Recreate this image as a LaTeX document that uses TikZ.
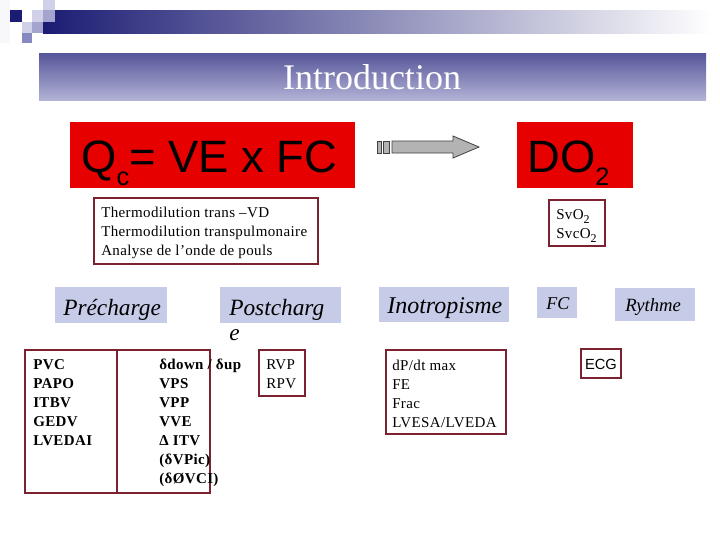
\documentclass[tikz,border=0pt]{standalone}
\usepackage{fontspec}
\setmainfont{Liberation Serif}
\newfontfamily\sansf{Liberation Sans}
\newfontfamily\spaced[LetterSpace=2.5]{Liberation Serif}
\usetikzlibrary{positioning}

\begin{document}
\begin{tikzpicture}[x=0.75pt, y=-0.75pt,
  txt/.style={inner sep=0pt, anchor=base west, font=\spaced\fontsize{11.25}{14.25}\selectfont},
  txtb/.style={inner sep=0pt, anchor=base west, font=\spaced\fontsize{11.25}{14.25}\selectfont\bfseries},
  lbl/.style={inner sep=0pt, anchor=base west, font=\fontsize{17.5}{18}\selectfont\itshape},
  frame/.style={draw=boxRed, line width=0.9pt}]

\definecolor{navyBar}{HTML}{1C1C74}
\definecolor{sqLight}{HTML}{D0D0E8}
\definecolor{sqMid}{HTML}{A4A4CE}
\definecolor{sqDeep}{HTML}{8888C0}
\definecolor{titleTop}{HTML}{55559A}
\definecolor{titleBot}{HTML}{B2B2D6}
\definecolor{redBox}{HTML}{E60000}
\definecolor{boxRed}{HTML}{7B2130}
\definecolor{lav}{HTML}{C6CBE8}
\definecolor{arrGray}{HTML}{B3B3B3}

\useasboundingbox (0,0) rectangle (720,540);
\fill[white] (0,0) rectangle (720,540);

% top band and squares
\shade[left color=navyBar, right color=white] (43,10) rectangle (712,33);
\fill[white!85!sqLight] (0,0) rectangle (10,43);
\fill[navyBar] (10,10) rectangle (22,22);
\fill[sqLight] (43,0) rectangle (55,10);
\fill[sqLight] (32,10) rectangle (43,22);
\fill[sqMid]   (43,10) rectangle (55,22);
\fill[sqLight] (22,22) rectangle (32,33);
\fill[sqMid]   (32,22) rectangle (43,33);
\fill[sqDeep]  (22,33) rectangle (32,43);

% title bar
\shade[top color=titleTop, bottom color=titleBot] (39,53) rectangle (706,100);
\node[text=white, inner sep=0pt, font=\fontsize{27}{27}\selectfont] (title) at (372,77) {Introduction};

% ===== Qc = VE x FC  -->  DO2 =====
\fill[redBox] (70,122) rectangle (355,188);
\node[inner sep=0pt, anchor=base west, font=\sansf\fontsize{34}{34}\selectfont] (qc) at (81,172)
  {Q\raisebox{-10pt}{\fontsize{19}{19}\selectfont c}= VE x FC};
\fill[redBox] (517,122) rectangle (633,188);
\node[inner sep=0pt, anchor=base west, font=\sansf\fontsize{34}{34}\selectfont] (do2) at (527,172)
  {DO\raisebox{-10pt}{\fontsize{19}{19}\selectfont 2}};

\coordinate (arrtail) at (377,147);
\filldraw[fill=arrGray, draw=black!75, line width=0.6pt] (arrtail) ++(0,-6) rectangle ++(4,12);
\filldraw[fill=arrGray, draw=black!75, line width=0.6pt] (arrtail) ++(6,-6) rectangle ++(6,12);
\filldraw[fill=arrGray, draw=black!75, line width=0.6pt]
  (392,141) -- (453,141) -- (453,136) -- (479,147) -- (453,158) -- (453,153) -- (392,153) -- cycle;

% ===== measuring methods =====
\draw[frame] (94,198) rectangle (318,264);
\foreach \t [count=\i] in {Thermodilution trans –VD, Thermodilution transpulmonaire, Analyse de l’onde de pouls}
  \node[txt] (thermo\i) at (101, 198+19*\i) {\t};

\draw[frame] (549,200) rectangle (605,246);
\node[txt] (svo1) at (556,219) {SvO\raisebox{-3pt}{\fontsize{9}{9}\selectfont 2}};
\node[txt] (svo2) at (556,238) {SvcO\raisebox{-3pt}{\fontsize{9}{9}\selectfont 2}};

% ===== determinants =====
\fill[lav] (55,287) rectangle (167,323);
\node[lbl] (prech) at (63,315) {Précharge};
\fill[lav] (220,287) rectangle (341,323);
\node[lbl] (postch) at (229,315) {Postcharg};
\node[lbl] (postche) at (229,340) {e};
\fill[lav] (379,287) rectangle (509,322);
\node[lbl, font=\fontsize{18}{18}\selectfont\itshape] (ino) at (387,313) {Inotropisme};
\fill[lav] (537,287) rectangle (577,318);
\node[lbl, font=\fontsize{13.5}{14}\selectfont\itshape] (fc) at (546,309) {FC};
\fill[lav] (615,288) rectangle (695,321);
\node[lbl, font=\fontsize{14}{14}\selectfont\itshape] (rythme) at (625,311) {Rythme};

% ===== indices =====
\draw[frame] (25,350) rectangle (117,493);
\draw[frame] (117,350) rectangle (210,493);
\foreach \t [count=\i] in {PVC, PAPO, ITBV, GEDV, LVEDAI}
  \node[txtb] (stat\i) at (33, 350+19*\i) {\t};
\foreach \t [count=\i] in {δdown / δup, VPS, VPP, VVE, Δ ITV, {(δVPic)}, {(δØVCI)}}
  \node[txtb] (dyn\i) at (159, 350+19*\i) {\t};

\draw[frame] (259,350) rectangle (305,396);
\foreach \t [count=\i] in {RVP, RPV}
  \node[txt] (res\i) at (266, 350+19*\i) {\t};

\draw[frame] (386,350) rectangle (506,434);
\foreach \t [count=\i] in {dP/dt max, FE, Frac, LVESA/LVEDA}
  \node[txt] (contr\i) at (392, 351+19*\i) {\t};

\draw[frame] (581,349) rectangle (621,378);
\node[inner sep=0pt, font=\sansf\fontsize{11}{11}\selectfont] (ecg) at (601,364) {ECG};

\end{tikzpicture}
\end{document}
